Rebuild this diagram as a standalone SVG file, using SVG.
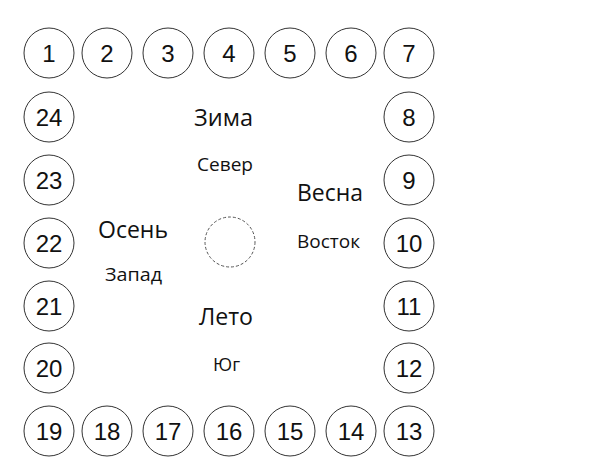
<svg xmlns="http://www.w3.org/2000/svg" width="591" height="470" viewBox="0 0 591 470">
<style>
.c{fill:#fff;stroke:#333;stroke-width:1}
.n{font-family:"Liberation Sans",Arial,sans-serif;font-size:24px;fill:#111;text-anchor:middle}
.s{font-family:"Open Sans","Noto Sans",sans-serif;font-size:23px;fill:#111}
.d{font-family:"Open Sans","Noto Sans",sans-serif;font-size:18px;fill:#111}
.dash{fill:none;stroke:#555;stroke-width:1;stroke-dasharray:3 2}
</style>
<rect width="591" height="470" fill="#fff"/>
<defs><circle id="ring" r="25" class="c"/></defs>
<g id="n1"><use href="#ring" x="49" y="53"/><text class="n" x="49" y="62">1</text></g>
<g id="n2"><use href="#ring" x="107" y="53"/><text class="n" x="107" y="62">2</text></g>
<g id="n3"><use href="#ring" x="168" y="53"/><text class="n" x="168" y="62">3</text></g>
<g id="n4"><use href="#ring" x="229" y="53"/><text class="n" x="229" y="62">4</text></g>
<g id="n5"><use href="#ring" x="290" y="53"/><text class="n" x="290" y="62">5</text></g>
<g id="n6"><use href="#ring" x="351" y="53"/><text class="n" x="351" y="62">6</text></g>
<g id="n7"><use href="#ring" x="409" y="53"/><text class="n" x="409" y="62">7</text></g>
<g id="n8"><use href="#ring" x="409" y="117"/><text class="n" x="409" y="126">8</text></g>
<g id="n9"><use href="#ring" x="409" y="180"/><text class="n" x="409" y="189">9</text></g>
<g id="n10"><use href="#ring" x="409" y="243"/><text class="n" x="409" y="252">10</text></g>
<g id="n11"><use href="#ring" x="409" y="306"/><text class="n" x="409" y="315">11</text></g>
<g id="n12"><use href="#ring" x="409" y="368"/><text class="n" x="409" y="377">12</text></g>
<g id="n13"><use href="#ring" x="409" y="431"/><text class="n" x="409" y="440">13</text></g>
<g id="n14"><use href="#ring" x="351" y="431"/><text class="n" x="351" y="440">14</text></g>
<g id="n15"><use href="#ring" x="290" y="431"/><text class="n" x="290" y="440">15</text></g>
<g id="n16"><use href="#ring" x="229" y="431"/><text class="n" x="229" y="440">16</text></g>
<g id="n17"><use href="#ring" x="168" y="431"/><text class="n" x="168" y="440">17</text></g>
<g id="n18"><use href="#ring" x="107" y="431"/><text class="n" x="107" y="440">18</text></g>
<g id="n19"><use href="#ring" x="49" y="431"/><text class="n" x="49" y="440">19</text></g>
<g id="n20"><use href="#ring" x="49" y="368"/><text class="n" x="49" y="377">20</text></g>
<g id="n21"><use href="#ring" x="49" y="306"/><text class="n" x="49" y="315">21</text></g>
<g id="n22"><use href="#ring" x="49" y="243"/><text class="n" x="49" y="252">22</text></g>
<g id="n23"><use href="#ring" x="49" y="180"/><text class="n" x="49" y="189">23</text></g>
<g id="n24"><use href="#ring" x="49" y="117"/><text class="n" x="49" y="126">24</text></g>
<g id="center"><circle class="dash" cx="230" cy="242" r="25"/></g>
<g id="winter"><text class="s" x="194" y="126" textLength="59" lengthAdjust="spacingAndGlyphs">Зима</text><text class="d" x="197" y="171" textLength="56" lengthAdjust="spacingAndGlyphs">Север</text></g>
<g id="spring"><text class="s" x="297" y="201" textLength="66" lengthAdjust="spacingAndGlyphs">Весна</text><text class="d" x="297" y="248" textLength="63" lengthAdjust="spacingAndGlyphs">Восток</text></g>
<g id="autumn"><text class="s" x="98" y="238" textLength="70" lengthAdjust="spacingAndGlyphs">Осень</text><text class="d" x="105" y="281" textLength="57" lengthAdjust="spacingAndGlyphs">Запад</text></g>
<g id="summer"><text class="s" x="199" y="325" textLength="54" lengthAdjust="spacingAndGlyphs">Лето</text><text class="d" x="213" y="371" textLength="27" lengthAdjust="spacingAndGlyphs">Юг</text></g>
</svg>
